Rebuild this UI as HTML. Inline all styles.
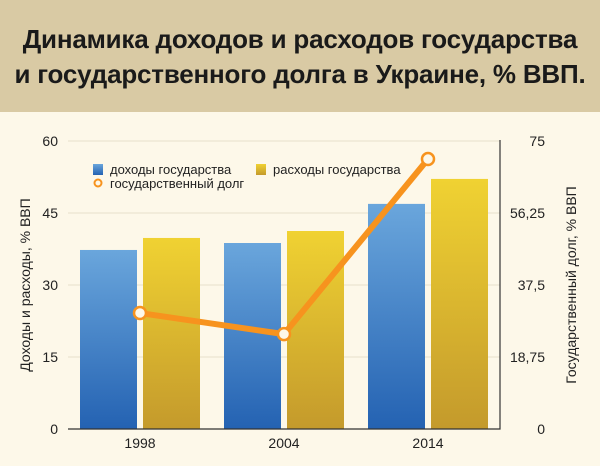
<!DOCTYPE html>
<html><head><meta charset="utf-8"><style>
body{margin:0;width:600px;height:466px;background:#fdf8e9;font-family:"Liberation Sans","DejaVu Sans",sans-serif;overflow:hidden}
#title{position:absolute;left:0;top:0;width:600px;height:112px;background:#d9caa4;color:#1a1a1a;font-weight:bold;font-size:26px;line-height:35px;text-align:center;box-sizing:border-box;padding-top:22px;letter-spacing:-0.2px}
svg{position:absolute;left:0;top:0}
</style></head><body>
<div id="title">Динамика доходов и расходов государства<br>и государственного долга в Украине, % ВВП.</div>
<svg id="chart" width="600" height="466">
<defs>
<linearGradient id="gb" x1="0" y1="0" x2="0" y2="1"><stop offset="0" stop-color="#6aa6dc"/><stop offset="1" stop-color="#2462b2"/></linearGradient>
<linearGradient id="gg" x1="0" y1="0" x2="0" y2="1"><stop offset="0" stop-color="#f0d232"/><stop offset="1" stop-color="#c49a2c"/></linearGradient>
</defs>
</svg>
<script>
const categories=["1998","2004","2014"];
const revenue=[37.3,38.75,46.9];
const expenses=[39.8,41.25,52.1];
const debt=[30.2,24.7,70.3];
const leftTicks=[0,15,30,45,60];
const rightTicks=["0","18,75","37,5","56,25","75"];
const NS="http://www.w3.org/2000/svg";
const svg=document.getElementById('chart');
const X0=68,X1=500,Y0=429,Y1=141;
const yL=v=>Y0-(v/60)*(Y0-Y1);
const yR=v=>Y0-(v/75)*(Y0-Y1);
const cw=(X1-X0)/categories.length;
const xc=i=>X0+cw*(i+0.5);
function el(t,a,txt){const e=document.createElementNS(NS,t);for(const k in a)e.setAttribute(k,a[k]);if(txt!==undefined)e.textContent=txt;svg.appendChild(e);return e;}
leftTicks.forEach((v,i)=>{
 const y=yL(v);
 if(v>0){const g=el('line',{x1:X0,x2:X1,y1:y,y2:y,stroke:'#e6dfcc','stroke-width':1});
 
 }
 const t=el('text',{x:58,y:y+5,'text-anchor':'end','font-size':14,fill:'#222'},String(v));
 
 
 const r=el('text',{x:545,y:y+5,'text-anchor':'end','font-size':14,fill:'#222'},rightTicks[i]);
 
 
});
categories.forEach((c,i)=>{
 const b=el('rect',{x:xc(i)-57-3,y:yL(revenue[i]),width:57,height:Y0-yL(revenue[i]),fill:'url(#gb)'});
 
 
 const g=el('rect',{x:xc(i)+3,y:yL(expenses[i]),width:57,height:Y0-yL(expenses[i]),fill:'url(#gg)'});
 
 
 const t=el('text',{x:xc(i),y:448,'text-anchor':'middle','font-size':14,fill:'#222'},c);
 
 
});
const ax=el('polyline',{points:`${X0},${Y0} ${X1},${Y0} ${X1},${Y1-1}`,fill:'none',stroke:'#333','stroke-width':1.2});


const ln=el('polyline',{points:debt.map((v,i)=>xc(i)+','+yR(v)).join(' '),fill:'none',stroke:'#f7931e','stroke-width':6,'stroke-linejoin':'round'});


debt.forEach((v,i)=>{
 const p=el('circle',{cx:xc(i),cy:yR(v),r:6,fill:'#fdf8e9',stroke:'#f7931e','stroke-width':2.5});
 
 
});
const l1=el('rect',{x:93,y:164,width:10,height:11,fill:'url(#gb)'});


const t1=el('text',{x:110,y:174,'font-size':13,fill:'#222'},'доходы  государства');


const l2=el('rect',{x:256,y:164,width:10,height:11,fill:'url(#gg)'});


const t2=el('text',{x:273,y:174,'font-size':13,fill:'#222'},'расходы государства');


const l3=el('circle',{cx:98,cy:183,r:3.5,fill:'#fdf8e9',stroke:'#f7931e','stroke-width':2});


const t3=el('text',{x:110,y:188,'font-size':13,fill:'#222'},'государственный долг');


const yl=el('text',{transform:'translate(30,285) rotate(-90)','text-anchor':'middle','font-size':14,fill:'#222'},'Доходы и расходы, % ВВП');


const yr=el('text',{transform:'translate(576,285) rotate(-90)','text-anchor':'middle','font-size':14,fill:'#222'},'Государственный долг, % ВВП');


</script>
</body></html>
